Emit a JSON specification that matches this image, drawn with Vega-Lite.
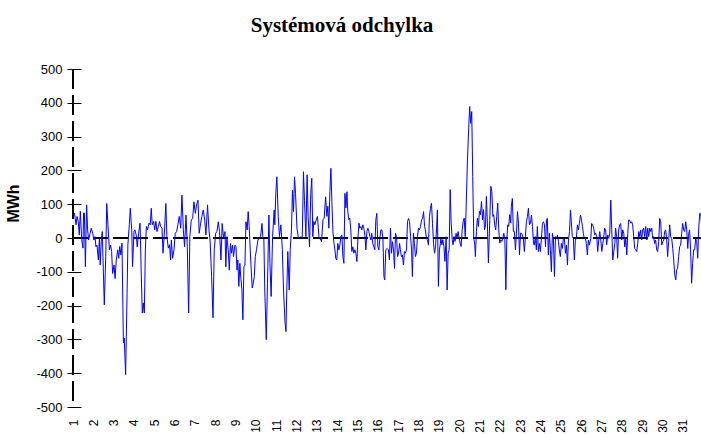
{
"$schema": "https://vega.github.io/schema/vega-lite/v6.json",
"width": 630, "height": 338,
"autosize": {"type": "none"},
"padding": {"left": 73, "top": 69, "right": 0, "bottom": 27},
"background": "white",
"title": {"text": "Systémová odchylka", "font": "Liberation Serif", "fontSize": 21, "fontWeight": "bold", "color": "black", "anchor": "middle", "dx": -46, "offset": 10, "baseline": "alphabetic"},
"config": {"view": {"stroke": null}, "axis": {"labelOverlap": false}},
"data": {"values": [
{"d":1.07,"v":74},{"d":1.15,"v":39},{"d":1.20,"v":64},{"d":1.26,"v":49},{"d":1.31,"v":9},{"d":1.36,"v":79},{"d":1.43,"v":-6},{"d":1.49,"v":-30},{"d":1.52,"v":74},{"d":1.56,"v":74},{"d":1.61,"v":-85},{"d":1.67,"v":98},{"d":1.72,"v":24},{"d":1.77,"v":-6},{"d":1.84,"v":14},{"d":1.90,"v":29},{"d":1.97,"v":14},{"d":2.03,"v":-6},{"d":2.08,"v":4},{"d":2.13,"v":-26},{"d":2.18,"v":-21},{"d":2.25,"v":-65},{"d":2.30,"v":-1},{"d":2.34,"v":-80},{"d":2.39,"v":-11},{"d":2.44,"v":19},{"d":2.54,"v":-198},{"d":2.61,"v":-55},{"d":2.66,"v":102},{"d":2.72,"v":39},{"d":2.79,"v":-35},{"d":2.85,"v":-21},{"d":2.90,"v":-40},{"d":2.95,"v":-105},{"d":3.02,"v":-80},{"d":3.07,"v":-120},{"d":3.13,"v":-65},{"d":3.20,"v":-35},{"d":3.25,"v":-60},{"d":3.30,"v":-25},{"d":3.36,"v":-50},{"d":3.41,"v":-15},{"d":3.48,"v":-311},{"d":3.52,"v":-296},{"d":3.59,"v":-404},{"d":3.66,"v":-165},{"d":3.70,"v":-21},{"d":3.77,"v":39},{"d":3.82,"v":88},{"d":3.89,"v":24},{"d":3.93,"v":-85},{"d":4.00,"v":19},{"d":4.05,"v":24},{"d":4.11,"v":9},{"d":4.16,"v":-26},{"d":4.23,"v":14},{"d":4.30,"v":44},{"d":4.36,"v":-110},{"d":4.41,"v":-222},{"d":4.46,"v":-192},{"d":4.51,"v":-222},{"d":4.56,"v":-35},{"d":4.61,"v":34},{"d":4.67,"v":24},{"d":4.74,"v":44},{"d":4.80,"v":39},{"d":4.85,"v":88},{"d":4.90,"v":39},{"d":4.97,"v":49},{"d":5.02,"v":24},{"d":5.08,"v":49},{"d":5.13,"v":19},{"d":5.20,"v":34},{"d":5.26,"v":49},{"d":5.31,"v":34},{"d":5.38,"v":29},{"d":5.43,"v":-45},{"d":5.49,"v":9},{"d":5.57,"v":102},{"d":5.62,"v":4},{"d":5.69,"v":-30},{"d":5.75,"v":-20},{"d":5.80,"v":-65},
{"d":5.84,"v":-6},{"d":5.90,"v":-60},{"d":5.97,"v":-35},{"d":6.03,"v":14},{"d":6.10,"v":19},{"d":6.16,"v":39},{"d":6.23,"v":64},{"d":6.30,"v":29},{"d":6.36,"v":127},{"d":6.43,"v":24},{"d":6.49,"v":-26},{"d":6.56,"v":68},{"d":6.62,"v":-16},{"d":6.69,"v":-222},{"d":6.75,"v":4},{"d":6.82,"v":53},{"d":6.89,"v":58},{"d":6.95,"v":107},{"d":7.02,"v":73},{"d":7.08,"v":98},{"d":7.15,"v":112},{"d":7.21,"v":14},{"d":7.28,"v":44},{"d":7.34,"v":64},{"d":7.41,"v":83},{"d":7.48,"v":53},{"d":7.54,"v":9},{"d":7.62,"v":98},{"d":7.69,"v":24},{"d":7.75,"v":-11},{"d":7.82,"v":-114},{"d":7.89,"v":-236},{"d":7.95,"v":-35},{"d":8.02,"v":14},{"d":8.08,"v":19},{"d":8.15,"v":48},{"d":8.21,"v":19},{"d":8.28,"v":-65},{"d":8.34,"v":43},{"d":8.41,"v":-1},{"d":8.48,"v":19},{"d":8.52,"v":-85},{"d":8.57,"v":4},{"d":8.64,"v":-35},{"d":8.69,"v":-95},{"d":8.75,"v":-16},{"d":8.80,"v":-45},{"d":8.85,"v":-21},{"d":8.90,"v":-55},{"d":8.97,"v":-21},{"d":9.02,"v":-26},{"d":9.07,"v":-95},{"d":9.11,"v":-65},{"d":9.16,"v":-143},{"d":9.21,"v":-75},{"d":9.26,"v":-119},{"d":9.31,"v":-153},{"d":9.36,"v":-242},{"d":9.41,"v":-85},{"d":9.46,"v":-80},{"d":9.51,"v":48},{"d":9.57,"v":24},{"d":9.62,"v":78},{"d":9.67,"v":34},{"d":9.72,"v":-35},{"d":9.77,"v":-95},{"d":9.82,"v":-148},{"d":9.87,"v":-134},{"d":9.92,"v":-114},{"d":9.97,"v":-55},{"d":10.03,"v":-35},{"d":10.10,"v":-6},{"d":10.16,"v":-1},{"d":10.23,"v":4},{"d":10.30,"v":43},{"d":10.34,"v":4},{"d":10.39,"v":-1},{"d":10.44,"v":-163},{"d":10.51,"v":-301},{"d":10.57,"v":-134},{"d":10.64,"v":68},{"d":10.69,"v":-75},{"d":10.75,"v":-173},
{"d":10.82,"v":4},{"d":10.90,"v":83},{"d":10.93,"v":39},{"d":10.98,"v":132},{"d":11.03,"v":181},{"d":11.10,"v":64},{"d":11.16,"v":4},{"d":11.23,"v":39},{"d":11.30,"v":-35},{"d":11.36,"v":-154},{"d":11.43,"v":-247},{"d":11.48,"v":-277},{"d":11.52,"v":-154},{"d":11.57,"v":-40},{"d":11.64,"v":-154},{"d":11.69,"v":-35},{"d":11.75,"v":24},{"d":11.80,"v":142},{"d":11.85,"v":78},{"d":11.90,"v":181},{"d":11.95,"v":132},{"d":12.02,"v":29},{"d":12.08,"v":4},{"d":12.15,"v":-1},{"d":12.21,"v":4},{"d":12.28,"v":-1},{"d":12.34,"v":196},{"d":12.39,"v":112},{"d":12.46,"v":4},{"d":12.52,"v":187},{"d":12.57,"v":64},{"d":12.64,"v":-26},{"d":12.70,"v":132},{"d":12.75,"v":177},{"d":12.80,"v":4},{"d":12.85,"v":49},{"d":12.90,"v":39},{"d":12.97,"v":54},{"d":13.03,"v":64},{"d":13.10,"v":4},{"d":13.16,"v":-1},{"d":13.23,"v":-11},{"d":13.30,"v":54},{"d":13.36,"v":59},{"d":13.43,"v":122},{"d":13.49,"v":64},{"d":13.54,"v":94},{"d":13.59,"v":29},{"d":13.64,"v":137},{"d":13.69,"v":206},{"d":13.74,"v":104},{"d":13.79,"v":19},{"d":13.84,"v":-16},{"d":13.89,"v":-35},{"d":13.93,"v":-60},{"d":13.98,"v":-65},{"d":14.03,"v":-16},{"d":14.08,"v":-35},{"d":14.13,"v":-21},{"d":14.18,"v":4},{"d":14.23,"v":9},{"d":14.28,"v":-55},{"d":14.33,"v":-75},{"d":14.38,"v":132},{"d":14.43,"v":89},{"d":14.48,"v":137},{"d":14.52,"v":79},{"d":14.57,"v":54},{"d":14.62,"v":59},{"d":14.67,"v":24},{"d":14.72,"v":-40},{"d":14.77,"v":-26},{"d":14.82,"v":-45},{"d":14.87,"v":-35},{"d":14.92,"v":-45},{"d":14.97,"v":-70},{"d":15.02,"v":-1},{"d":15.07,"v":44},{"d":15.11,"v":29},{"d":15.16,"v":34},{"d":15.21,"v":24},{"d":15.26,"v":39},{"d":15.31,"v":29},{"d":15.36,"v":9},{"d":15.41,"v":-35},{"d":15.46,"v":19},{"d":15.51,"v":29},{"d":15.56,"v":19},{"d":15.61,"v":4},{"d":15.66,"v":-6},{"d":15.70,"v":14},{"d":15.75,"v":-16},{"d":15.80,"v":-26},{"d":15.85,"v":-35},{"d":15.90,"v":53},{"d":15.95,"v":73},{"d":16.00,"v":-26},{"d":16.05,"v":-35},{"d":16.10,"v":-1},{"d":16.15,"v":24},
{"d":16.20,"v":24},{"d":16.25,"v":-1},{"d":16.30,"v":-114},{"d":16.34,"v":-124},{"d":16.39,"v":-35},{"d":16.46,"v":-31},{"d":16.52,"v":-35},{"d":16.57,"v":-65},{"d":16.62,"v":29},{"d":16.67,"v":-45},{"d":16.72,"v":-11},{"d":16.77,"v":-35},{"d":16.82,"v":-90},{"d":16.87,"v":14},{"d":16.92,"v":4},{"d":16.97,"v":-55},{"d":17.02,"v":-45},{"d":17.07,"v":-16},{"d":17.11,"v":-35},{"d":17.16,"v":-55},{"d":17.21,"v":-50},{"d":17.26,"v":-80},{"d":17.31,"v":-40},{"d":17.36,"v":-45},{"d":17.41,"v":-35},{"d":17.46,"v":48},{"d":17.51,"v":58},{"d":17.56,"v":48},{"d":17.61,"v":4},{"d":17.66,"v":-35},{"d":17.70,"v":-114},{"d":17.75,"v":14},{"d":17.80,"v":-16},{"d":17.85,"v":-55},{"d":17.90,"v":-45},{"d":17.95,"v":4},{"d":18.00,"v":29},{"d":18.05,"v":24},{"d":18.10,"v":34},{"d":18.15,"v":53},{"d":18.20,"v":58},{"d":18.25,"v":78},{"d":18.30,"v":34},{"d":18.34,"v":24},{"d":18.39,"v":-1},{"d":18.44,"v":-6},{"d":18.49,"v":-21},{"d":18.54,"v":63},{"d":18.59,"v":88},{"d":18.64,"v":103},{"d":18.69,"v":43},{"d":18.74,"v":-16},{"d":18.79,"v":-45},{"d":18.84,"v":-26},{"d":18.89,"v":29},{"d":18.93,"v":83},{"d":18.98,"v":-143},{"d":19.03,"v":-35},{"d":19.08,"v":-16},
{"d":19.10,"v":0},{"d":19.15,"v":-20},{"d":19.20,"v":-5},{"d":19.25,"v":-25},{"d":19.30,"v":-69},{"d":19.36,"v":4},{"d":19.41,"v":-154},{"d":19.46,"v":-45},{"d":19.51,"v":-35},{"d":19.56,"v":143},{"d":19.61,"v":44},{"d":19.66,"v":-5},{"d":19.70,"v":-20},{"d":19.75,"v":4},{"d":19.80,"v":-10},{"d":19.85,"v":14},{"d":19.90,"v":0},{"d":19.95,"v":19},{"d":20.00,"v":0},{"d":20.05,"v":-15},{"d":20.10,"v":-25},{"d":20.15,"v":24},{"d":20.20,"v":49},{"d":20.25,"v":59},{"d":20.30,"v":4},{"d":20.34,"v":79},{"d":20.41,"v":231},{"d":20.48,"v":339},{"d":20.52,"v":389},{"d":20.57,"v":339},{"d":20.62,"v":374},{"d":20.67,"v":182},{"d":20.72,"v":0},{"d":20.77,"v":-20},{"d":20.80,"v":-55},{"d":20.85,"v":19},{"d":20.90,"v":59},{"d":20.95,"v":34},{"d":21.00,"v":79},{"d":21.05,"v":69},{"d":21.10,"v":108},{"d":21.15,"v":54},{"d":21.20,"v":84},{"d":21.25,"v":24},{"d":21.30,"v":39},{"d":21.34,"v":123},{"d":21.39,"v":44},{"d":21.44,"v":-74},{"d":21.51,"v":54},{"d":21.56,"v":153},{"d":21.61,"v":138},{"d":21.66,"v":64},{"d":21.70,"v":69},{"d":21.75,"v":39},{"d":21.80,"v":24},{"d":21.85,"v":64},{"d":21.90,"v":103},{"d":21.95,"v":24},{"d":22.00,"v":-15},{"d":22.05,"v":-5},{"d":22.10,"v":-10},{"d":22.15,"v":0},{"d":22.20,"v":14},{"d":22.25,"v":-5},{"d":22.30,"v":-153},{"d":22.34,"v":-15},{"d":22.39,"v":39},{"d":22.44,"v":34},{"d":22.49,"v":69},{"d":22.54,"v":44},
{"d":22.57,"v":94},{"d":22.62,"v":117},{"d":22.67,"v":19},{"d":22.72,"v":19},{"d":22.77,"v":-35},{"d":22.82,"v":14},{"d":22.87,"v":78},{"d":22.92,"v":44},{"d":22.97,"v":-50},{"d":23.02,"v":14},{"d":23.07,"v":14},{"d":23.11,"v":9},{"d":23.16,"v":-1},{"d":23.21,"v":-40},{"d":23.26,"v":4},{"d":23.31,"v":48},{"d":23.36,"v":63},{"d":23.41,"v":88},{"d":23.46,"v":39},{"d":23.51,"v":44},{"d":23.56,"v":68},{"d":23.61,"v":34},{"d":23.66,"v":-16},{"d":23.70,"v":-21},{"d":23.75,"v":4},{"d":23.80,"v":-35},{"d":23.85,"v":34},{"d":23.90,"v":-40},{"d":23.95,"v":-16},{"d":24.00,"v":-40},{"d":24.05,"v":-1},{"d":24.10,"v":43},{"d":24.15,"v":48},{"d":24.20,"v":39},{"d":24.25,"v":-26},{"d":24.30,"v":53},{"d":24.34,"v":58},{"d":24.39,"v":-50},{"d":24.44,"v":14},{"d":24.49,"v":-35},{"d":24.54,"v":-100},{"d":24.59,"v":14},{"d":24.64,"v":-6},{"d":24.69,"v":-114},{"d":24.74,"v":4},{"d":24.79,"v":-1},{"d":24.84,"v":9},{"d":24.89,"v":-11},{"d":24.93,"v":-35},{"d":24.98,"v":-55},{"d":25.03,"v":-16},{"d":25.08,"v":-31},{"d":25.13,"v":-1},{"d":25.18,"v":-1},{"d":25.23,"v":-45},{"d":25.28,"v":-21},{"d":25.33,"v":-80},{"d":25.38,"v":-6},{"d":25.43,"v":19},{"d":25.48,"v":83},{"d":25.52,"v":48},{"d":25.57,"v":4},{"d":25.62,"v":-1},{"d":25.67,"v":-65},{"d":25.72,"v":-6},{"d":25.77,"v":-1},{"d":25.82,"v":39},{"d":25.87,"v":24},{"d":25.92,"v":44},{"d":25.97,"v":68},{"d":26.02,"v":53},{"d":26.07,"v":34},{"d":26.11,"v":14},{"d":26.16,"v":-1},{"d":26.21,"v":-1},{"d":26.26,"v":-16},{"d":26.31,"v":-50},{"d":26.36,"v":-6},{"d":26.41,"v":-21},
{"d":26.48,"v":-1},{"d":26.52,"v":43},{"d":26.57,"v":39},{"d":26.62,"v":29},{"d":26.67,"v":9},{"d":26.72,"v":14},{"d":26.77,"v":4},{"d":26.82,"v":-40},{"d":26.87,"v":-6},{"d":26.92,"v":19},{"d":26.97,"v":-6},{"d":27.02,"v":-40},{"d":27.07,"v":-16},{"d":27.11,"v":-1},{"d":27.16,"v":29},{"d":27.21,"v":24},{"d":27.26,"v":-20},{"d":27.31,"v":9},{"d":27.36,"v":-1},{"d":27.41,"v":14},{"d":27.46,"v":112},{"d":27.51,"v":24},{"d":27.56,"v":-65},{"d":27.61,"v":-40},{"d":27.66,"v":-16},{"d":27.70,"v":29},{"d":27.75,"v":4},{"d":27.80,"v":-60},{"d":27.85,"v":24},{"d":27.90,"v":39},{"d":27.95,"v":43},{"d":28.00,"v":-6},{"d":28.05,"v":24},{"d":28.10,"v":14},{"d":28.15,"v":-26},{"d":28.20,"v":-1},{"d":28.25,"v":-50},{"d":28.30,"v":14},{"d":28.34,"v":53},{"d":28.39,"v":53},{"d":28.44,"v":44},{"d":28.49,"v":48},{"d":28.54,"v":39},{"d":28.59,"v":4},{"d":28.64,"v":-31},{"d":28.69,"v":-35},{"d":28.74,"v":-40},{"d":28.79,"v":-16},{"d":28.84,"v":19},{"d":28.89,"v":4},{"d":28.93,"v":24},{"d":28.98,"v":-6},{"d":29.03,"v":24},{"d":29.08,"v":29},{"d":29.13,"v":4},{"d":29.18,"v":34},{"d":29.23,"v":-6},{"d":29.28,"v":29},{"d":29.33,"v":4},{"d":29.38,"v":29},{"d":29.43,"v":19},{"d":29.48,"v":29},{"d":29.52,"v":-1},{"d":29.57,"v":4},{"d":29.62,"v":-16},{"d":29.67,"v":-6},{"d":29.72,"v":-35},{"d":29.77,"v":-40},{"d":29.82,"v":-11},{"d":29.87,"v":58},{"d":29.92,"v":48},{"d":29.97,"v":-21},{"d":30.02,"v":-11},{"d":30.07,"v":-6},{"d":30.11,"v":19},{"d":30.16,"v":24},{"d":30.21,"v":-1},{"d":30.26,"v":-55},{"d":30.31,"v":-11},{"d":30.36,"v":39},{"d":30.41,"v":4},{"d":30.46,"v":-1},{"d":30.51,"v":-31},{"d":30.56,"v":-65},{"d":30.61,"v":-110},{"d":30.66,"v":-124},{"d":30.70,"v":-95},{"d":30.75,"v":-90},{"d":30.80,"v":-55},{"d":30.85,"v":-26},{"d":30.90,"v":-21},{"d":30.95,"v":14},{"d":31.00,"v":43},{"d":31.05,"v":24},{"d":31.10,"v":19},{"d":31.15,"v":48},{"d":31.20,"v":24},{"d":31.25,"v":-31},{"d":31.30,"v":14},{"d":31.34,"v":24},{"d":31.39,"v":-35},{"d":31.44,"v":-134},{"d":31.49,"v":-75},{"d":31.54,"v":-35},{"d":31.59,"v":-35},{"d":31.64,"v":-1},{"d":31.69,"v":-11},{"d":31.74,"v":-60},{"d":31.79,"v":29},{"d":31.84,"v":73},{"d":31.89,"v":73},{"d":31.93,"v":39}
]},
"layer": [
{"mark": {"type": "rule", "color": "black", "strokeWidth": 1, "strokeDash": [15, 5]},
 "encoding": {
  "x": {"datum": 1, "type": "quantitative", "scale": {"domain": [1, 32], "nice": false, "zero": false}, "axis": {"title": null, "values": [1,2,3,4,5,6,7,8,9,10,11,12,13,14,15,16,17,18,19,20,21,22,23,24,25,26,27,28,29,30,31], "domain": false, "ticks": false, "tickSize": 0, "grid": false, "labelAngle": -90, "labelPadding": 12, "labelFont": "Liberation Sans", "labelFontSize": 12, "labelColor": "black", "labelOverlap": false, "labelFlush": false}},
  "x2": {"datum": 32},
  "y": {"datum": 0, "type": "quantitative", "scale": {"domain": [-500, 500], "nice": false}, "axis": {"title": "MWh", "values": [-500,-400,-300,-200,-100,0,100,200,300,400,500], "labelExpr": "'' + datum.value", "offset": -8, "tickSize": 14, "tickColor": "black", "domain": false, "grid": false, "labelPadding": 5, "labelFont": "Liberation Sans", "labelFontSize": 13, "labelColor": "black", "labelOverlap": false, "labelFlush": false, "titleFont": "Liberation Sans", "titleFontSize": 16, "titleFontWeight": "bold", "titleColor": "black", "titleAngle": -90, "titleAlign": "center", "titleBaseline": "middle", "titleX": -68, "titleY": 134}}}},
{"mark": {"type": "line", "color": "#0000ff", "strokeWidth": 1},
 "encoding": {
  "x": {"field": "d", "type": "quantitative", "scale": {"domain": [1, 32], "nice": false, "zero": false},
        "axis": {"title": null, "values": [1,2,3,4,5,6,7,8,9,10,11,12,13,14,15,16,17,18,19,20,21,22,23,24,25,26,27,28,29,30,31], "domain": false, "ticks": false, "tickSize": 0, "grid": false, "labelAngle": -90, "labelPadding": 12, "labelFont": "Liberation Sans", "labelFontSize": 12, "labelColor": "black", "labelOverlap": false, "labelFlush": false}},
  "y": {"field": "v", "type": "quantitative", "scale": {"domain": [-500, 500], "nice": false},
        "axis": {"title": "MWh", "values": [-500,-400,-300,-200,-100,0,100,200,300,400,500], "labelExpr": "'' + datum.value", "offset": -8, "tickSize": 14, "tickColor": "black", "domain": false, "grid": false, "labelPadding": 5, "labelFont": "Liberation Sans", "labelFontSize": 13, "labelColor": "black", "labelOverlap": false, "labelFlush": false, "titleFont": "Liberation Sans", "titleFontSize": 16, "titleFontWeight": "bold", "titleColor": "black", "titleAngle": -90, "titleAlign": "center", "titleBaseline": "middle", "titleX": -68, "titleY": 134}}
 }},
{"mark": {"type": "rule", "color": "black", "strokeWidth": 1, "strokeDash": [20, 6]},
 "encoding": {
  "x": {"datum": 1, "type": "quantitative", "axis": {"title": null, "values": [1,2,3,4,5,6,7,8,9,10,11,12,13,14,15,16,17,18,19,20,21,22,23,24,25,26,27,28,29,30,31], "domain": false, "ticks": false, "tickSize": 0, "grid": false, "labelAngle": -90, "labelPadding": 12, "labelFont": "Liberation Sans", "labelFontSize": 12, "labelColor": "black", "labelOverlap": false, "labelFlush": false}},
  "y": {"datum": 500, "type": "quantitative", "axis": {"title": "MWh", "values": [-500,-400,-300,-200,-100,0,100,200,300,400,500], "labelExpr": "'' + datum.value", "offset": -8, "tickSize": 14, "tickColor": "black", "domain": false, "grid": false, "labelPadding": 5, "labelFont": "Liberation Sans", "labelFontSize": 13, "labelColor": "black", "labelOverlap": false, "labelFlush": false, "titleFont": "Liberation Sans", "titleFontSize": 16, "titleFontWeight": "bold", "titleColor": "black", "titleAngle": -90, "titleAlign": "center", "titleBaseline": "middle", "titleX": -68, "titleY": 134}},
  "y2": {"datum": -500}}}
]
}
